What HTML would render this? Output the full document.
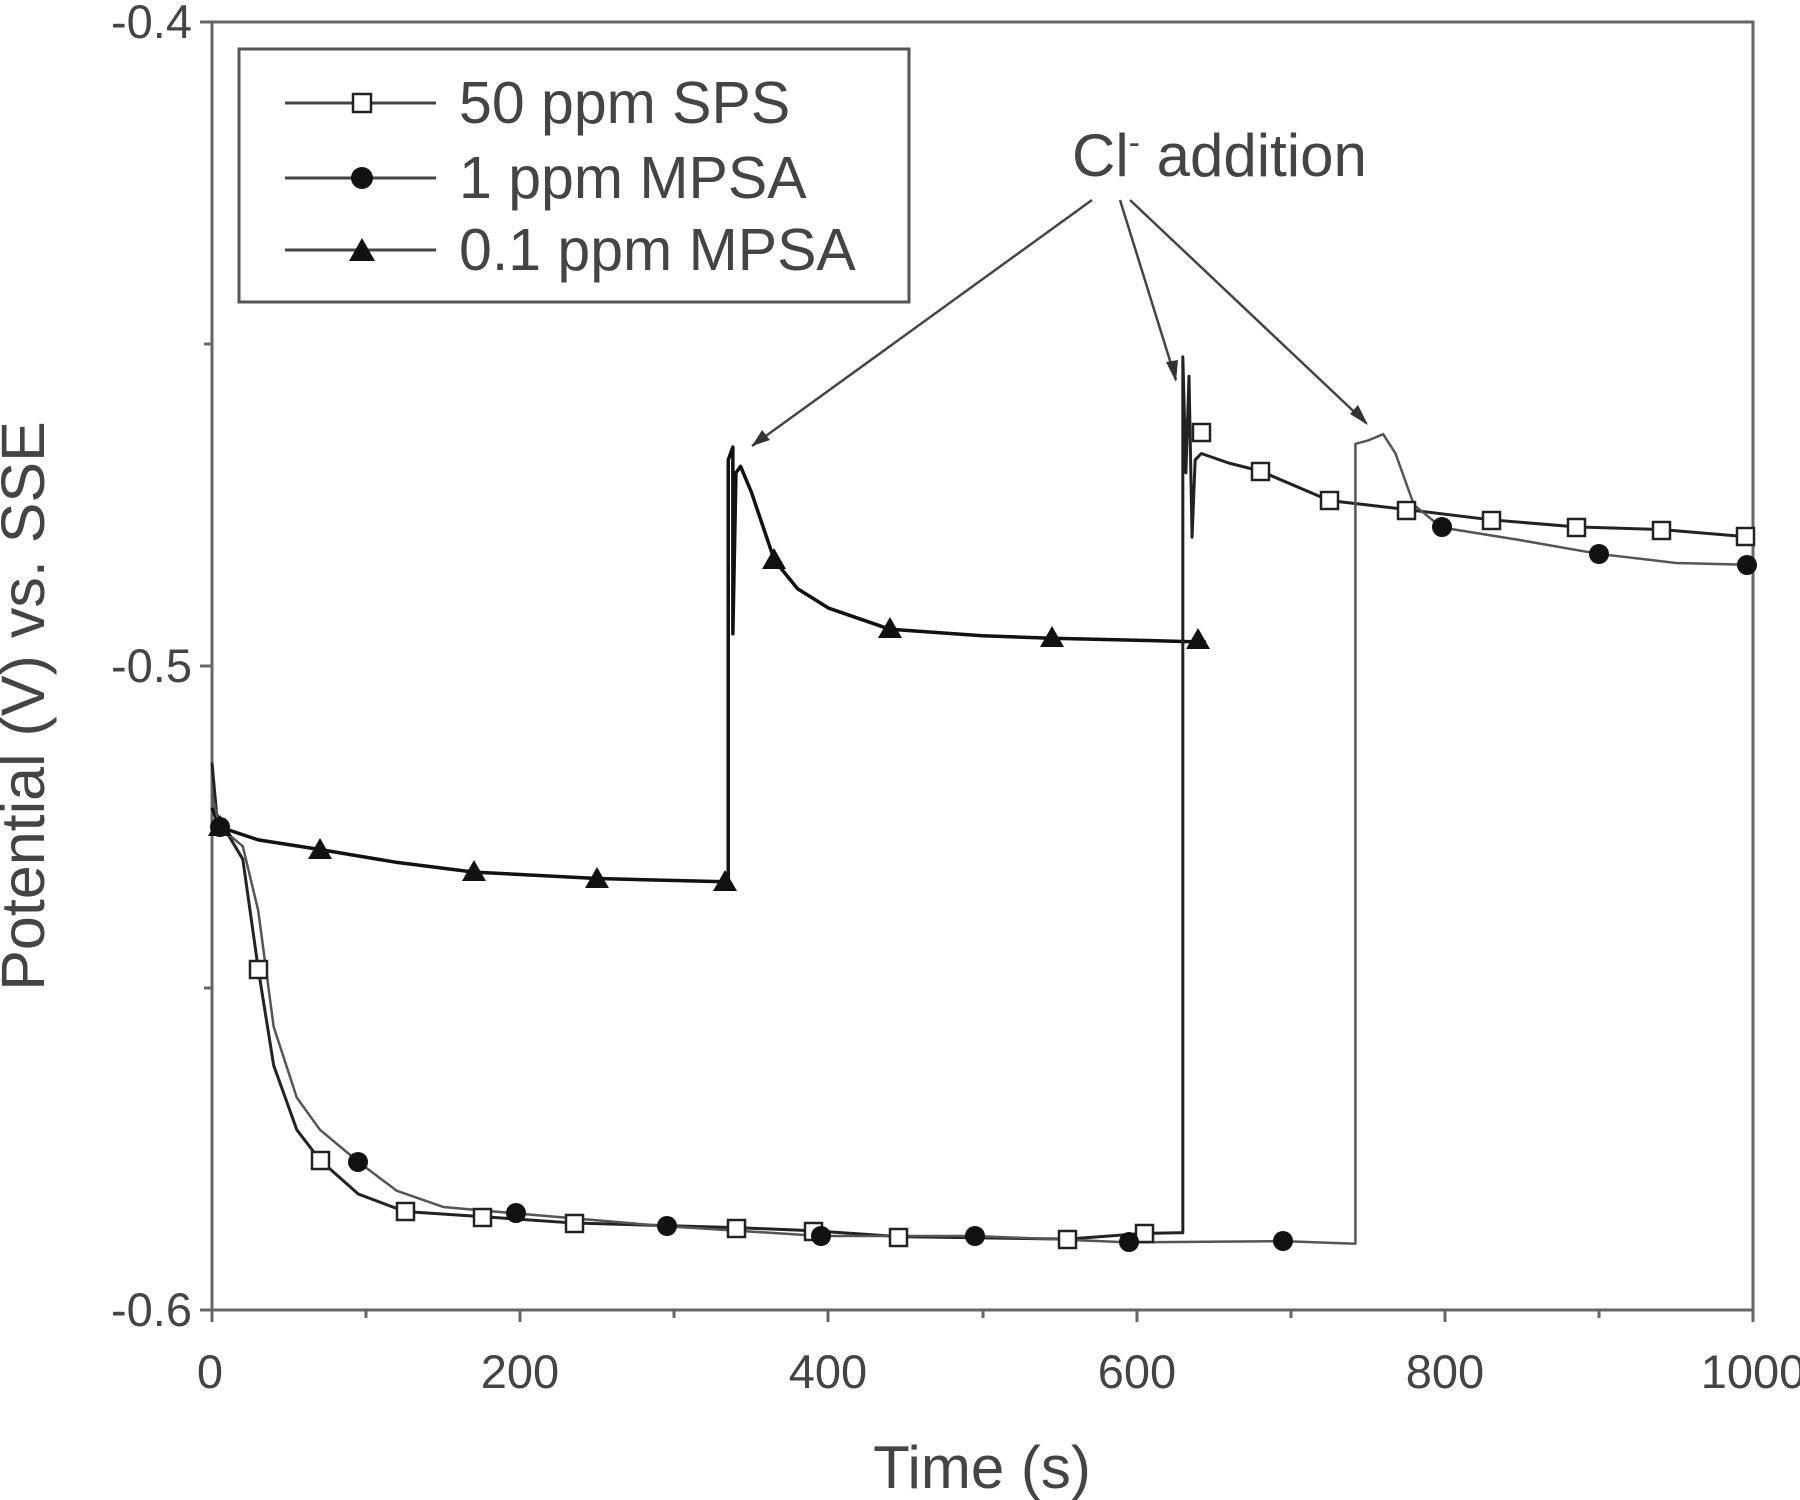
<!DOCTYPE html>
<html><head><meta charset="utf-8"><style>
html,body{margin:0;padding:0;background:#fff;}
svg{display:block;}
text{font-family:"Liberation Sans",Arial,sans-serif;fill:#444;}
</style></head><body>
<svg width="1800" height="1500" viewBox="0 0 1800 1500" xmlns="http://www.w3.org/2000/svg">
<rect x="0" y="0" width="1800" height="1500" fill="#fff"/>
<rect x="212" y="22" width="1541" height="1288" fill="none" stroke="#666" stroke-width="3"/>
<g stroke="#666" stroke-width="3">
<line x1="200" y1="22" x2="212" y2="22"/><line x1="204" y1="344" x2="212" y2="344"/>
<line x1="200" y1="666" x2="212" y2="666"/><line x1="204" y1="988" x2="212" y2="988"/>
<line x1="200" y1="1310" x2="212" y2="1310"/>
<line x1="212" y1="1310" x2="212" y2="1322"/><line x1="366" y1="1310" x2="366" y2="1318"/>
<line x1="520" y1="1310" x2="520" y2="1322"/><line x1="674" y1="1310" x2="674" y2="1318"/>
<line x1="828" y1="1310" x2="828" y2="1322"/><line x1="983" y1="1310" x2="983" y2="1318"/>
<line x1="1137" y1="1310" x2="1137" y2="1322"/><line x1="1291" y1="1310" x2="1291" y2="1318"/>
<line x1="1445" y1="1310" x2="1445" y2="1322"/><line x1="1599" y1="1310" x2="1599" y2="1318"/>
<line x1="1753" y1="1310" x2="1753" y2="1322"/>
</g>
<g font-size="47" text-anchor="end">
<text x="192" y="38">-0.4</text><text x="192" y="682">-0.5</text><text x="192" y="1326">-0.6</text>
</g>
<g font-size="47" text-anchor="middle">
<text x="210" y="1388">0</text><text x="520" y="1388">200</text><text x="828" y="1388">400</text>
<text x="1137" y="1388">600</text><text x="1445" y="1388">800</text><text x="1753" y="1388">1000</text>
</g>
<text x="982" y="1488" font-size="60" text-anchor="middle">Time (s)</text>
<text transform="translate(44,706) rotate(-90)" font-size="61" text-anchor="middle">Potential (V) vs. SSE</text>

<g transform="translate(212,-2554) scale(1.541,6.44)" fill="none" stroke-linejoin="round">
<path vector-effect="non-scaling-stroke" stroke="#111" stroke-width="3.5"
 d="M0,522 L5,525 L30,527 L70,528.5 L120,530.5 L170,532 L250,533 L333,533.5 L335,533.5 L335,468 L338,466 L338,495 L340,470 L343,469 L350,473 L365,483.6 L380,488 L400,491 L440,494.3 L500,495.3 L545,495.7 L600,496 L645,496.3"/>
<path vector-effect="non-scaling-stroke" stroke="#222" stroke-width="3"
 d="M0,515 L3,523 L10,526 L20,530 L30,547 L40,562 L55,572 L70,576.7 L95,582 L125,584.7 L175,585.5 L235,586.5 L340,587.2 L390,587.7 L445,588.6 L555,589 L605,588.1 L628,588 L630,588 L630,452 L632,470 L634,455 L636,480 L638,468 L642,467 L660,468.5 L680,469.7 L725,474.3 L775,475.7 L830,477.3 L885,478.4 L940,478.8 L1000,480"/>
<path vector-effect="non-scaling-stroke" stroke="#555" stroke-width="2.5"
 d="M0,520 L5,525 L20,528 L30,538 L40,556 L55,567 L70,572 L95,577 L120,581.5 L150,584 L197,585 L295,587 L395,588.5 L495,588.5 L595,589.5 L695,589.3 L740,589.7 L742,589.7 L742,465.5 L750,465 L760,464 L768,467 L780,475 L798,478.5 L850,480.5 L900,482.6 L950,484 L1000,484.3"/>
</g>
<g fill="#fff" stroke="#222" stroke-width="2.5">
<rect x="250" y="961" width="17" height="17"/><rect x="312" y="1152" width="17" height="17"/>
<rect x="397" y="1203" width="17" height="17"/><rect x="474" y="1209" width="17" height="17"/>
<rect x="566" y="1215" width="17" height="17"/><rect x="728" y="1220" width="17" height="17"/>
<rect x="805" y="1223" width="17" height="17"/><rect x="890" y="1229" width="17" height="17"/>
<rect x="1059" y="1231" width="17" height="17"/><rect x="1136" y="1225" width="17" height="17"/>
<rect x="1193" y="424" width="17" height="17"/><rect x="1252" y="463" width="17" height="17"/>
<rect x="1321" y="492" width="17" height="17"/><rect x="1398" y="502" width="17" height="17"/>
<rect x="1483" y="512" width="17" height="17"/><rect x="1568" y="519" width="17" height="17"/>
<rect x="1653" y="522" width="17" height="17"/><rect x="1737" y="528" width="17" height="17"/>
</g>
<g fill="#111">
<circle cx="220" cy="827" r="10"/><circle cx="358" cy="1162" r="10"/><circle cx="516" cy="1213" r="10"/>
<circle cx="667" cy="1226" r="10"/><circle cx="821" cy="1236" r="10"/><circle cx="975" cy="1236" r="10"/>
<circle cx="1129" cy="1242" r="10"/><circle cx="1283" cy="1241" r="10"/><circle cx="1442" cy="527" r="10"/>
<circle cx="1599" cy="554" r="10"/><circle cx="1747" cy="565" r="10"/>
</g>
<g fill="#111">
<polygon points="220,815 232,836 208,836"/><polygon points="320,838 332,859 308,859"/>
<polygon points="474,860 486,881 462,881"/><polygon points="597,867 609,888 585,888"/>
<polygon points="725,870 737,891 713,891"/><polygon points="774,548 786,569 762,569"/>
<polygon points="890,617 902,638 878,638"/><polygon points="1052,626 1064,647 1040,647"/>
<polygon points="1198,628 1210,649 1186,649"/>
</g>
<text x="1072" y="176" font-size="60">Cl<tspan font-size="34" dy="-22">-</tspan><tspan dy="22"> addition</tspan></text>
<g stroke="#444" stroke-width="2.5" fill="none">
<line x1="1092" y1="200" x2="752" y2="446"/>
<line x1="1120" y1="200" x2="1176" y2="380"/>
<line x1="1130" y1="200" x2="1366" y2="423"/>
</g>
<g fill="#333">
<polygon points="752,446 762,430 770,440"/>
<polygon points="1176,382 1166,362 1178,360"/>
<polygon points="1368,425 1350,414 1358,405"/>
</g>
<rect x="239" y="49" width="670" height="253" fill="#fff" stroke="#555" stroke-width="3"/>
<g stroke="#444" stroke-width="3">
<line x1="285" y1="103" x2="436" y2="103"/><line x1="285" y1="178" x2="436" y2="178"/><line x1="285" y1="250" x2="436" y2="250"/>
</g>
<rect x="353" y="94" width="18" height="18" fill="#fff" stroke="#222" stroke-width="2.5"/>
<circle cx="362" cy="178" r="11" fill="#111"/>
<polygon points="362,238 375,261 349,261" fill="#111"/>
<g font-size="59">
<text x="459" y="123">50 ppm SPS</text>
<text x="459" y="198">1 ppm MPSA</text>
<text x="459" y="270">0.1 ppm MPSA</text>
</g>
</svg>
</body></html>
